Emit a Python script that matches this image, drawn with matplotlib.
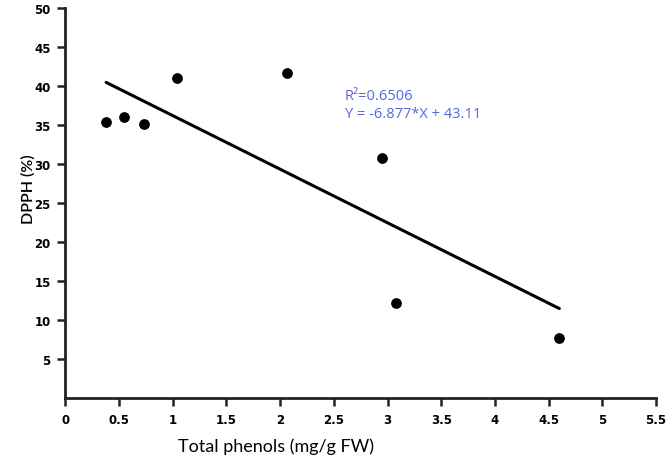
import matplotlib
matplotlib.use('Agg')
import matplotlib.pyplot as plt
import numpy as np

# data
phenols = [0.38, 0.55, 0.73, 1.04, 2.06, 2.95, 3.08, 4.60]
dpph = [35.4, 36.0, 35.2, 41.0, 41.7, 30.8, 12.2, 7.7]
slope = -6.877
intercept = 43.11
r2 = 0.6506

xticks = [0, 0.5, 1, 1.5, 2, 2.5, 3, 3.5, 4, 4.5, 5, 5.5]
xticklabels = ['0', '0.5', '1', '1.5', '2', '2.5', '3', '3.5', '4', '4.5', '5', '5.5']
yticks = [5, 10, 15, 20, 25, 30, 35, 40, 45, 50]

plt.rcParams['font.family'] = ['Lato', 'DejaVu Sans']

fig = plt.figure(figsize=(6.69, 4.60), dpi=100)
ax = fig.add_axes([0.0976, 0.1326, 0.8830, 0.8472])

ax.scatter(phenols, dpph, s=45, color='black', zorder=3)

fit_x = np.array([min(phenols), max(phenols)])
ax.plot(fit_x, slope * fit_x + intercept, color='black', lw=2.2,
        solid_capstyle='round')

ax.text(2.6, 38.4, 'R²=' + str(r2), color='#5468e0', fontsize=10.5,
        family=['Open Sans', 'DejaVu Sans'])
ax.text(2.6, 36.1, 'Y = -6.877*X + 43.11', color='#5468e0', fontsize=10.5,
        family=['Open Sans', 'DejaVu Sans'])

ax.set_xlim(0, 5.5)
ax.set_ylim(0, 50)
ax.set_xticks(xticks)
ax.set_xticklabels(xticklabels, fontweight='bold', fontsize=8.5,
                   family='DejaVu Sans')
ax.set_yticks(yticks)
ax.set_yticklabels([str(t) for t in yticks], fontweight='bold', fontsize=8.5,
                   family='DejaVu Sans')
ax.tick_params(width=1.8, length=5.5, color='#222222', pad=5)

for side in ['top', 'right']:
    ax.spines[side].set_visible(False)
for side in ['left', 'bottom']:
    ax.spines[side].set_linewidth(2)
    ax.spines[side].set_color('#222222')

fig.text(0.042, 0.589, 'DPPH (%)', fontsize=11.5, fontweight='semibold',
         rotation=90, ha='center', va='center')
fig.text(0.412, 0.028, 'Total phenols (mg/g FW)', fontsize=13,
         ha='center', va='center')

fig.savefig('out.png', dpi=100)
